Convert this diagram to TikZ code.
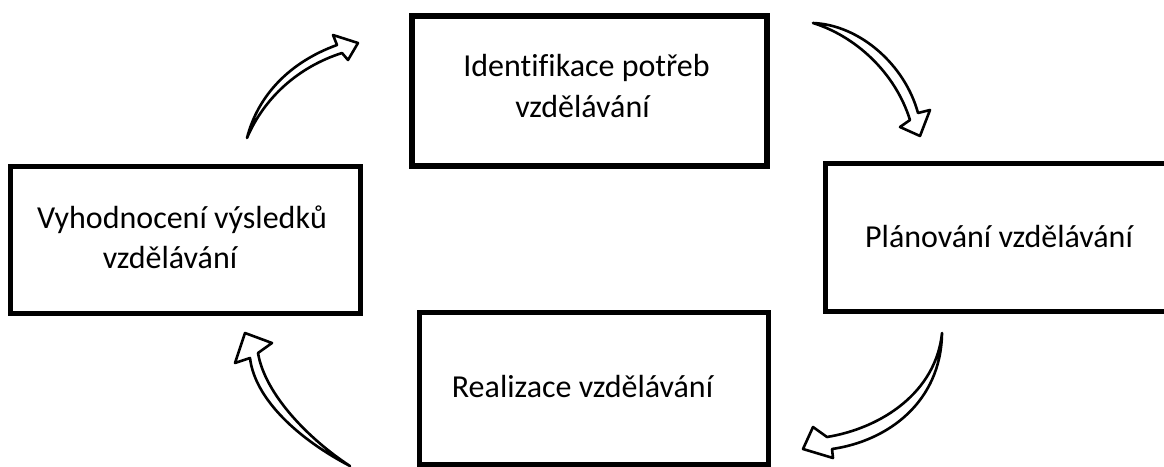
\documentclass[tikz,border=0pt]{standalone}
\usepackage{fontspec}
\setmainfont[Ligatures=NoCommon]{Carlito}
\begin{document}
\begin{tikzpicture}[x=1pt, y=-1pt,
  box/.style={draw=black, line width=5pt, rectangle, inner sep=0pt, fill=white},
  lbl/.style={anchor=base, inner sep=0pt, text=black, font=\fontsize{32pt}{38pt}\selectfont},
  blockarrow/.style={draw=black, fill=white, line width=2.6pt, line join=round}]
\clip (0,0) rectangle (1164,466);
\fill[white] (0,0) rectangle (1164,466);
% boxes
\node[box, line width=6pt, minimum width=355pt, minimum height=150pt] (ident) at (589,90.5) {};
\node[box, minimum width=349.5pt, minimum height=148pt] (plan) at (1000.25,237.5) {};
\node[box, minimum width=350pt, minimum height=147pt] (vyhod) at (185.5,240) {};
\node[box, minimum width=349pt, minimum height=151.5pt] (real) at (594,388.25) {};
% texts
\node[lbl] (ident1) at (586.5,76) {Identifikace potřeb};
\node[lbl] (ident2) at (582.5,117) {vzdělávání};
\node[lbl] (plan1) at (999,247) {Plánování vzdělávání};
\node[lbl] (vyhod1) at (182,228) {Vyhodnocení výsledků};
\node[lbl] (vyhod2) at (170,268) {vzdělávání};
\node[lbl] (real1) at (582.5,397) {Realizace vzdělávání};
% arrows
\draw[blockarrow] (247,138) .. controls (258,95) and (290,62) .. (337,45)
  -- (333,35) -- (358,43) -- (348,60) -- (342,53)
  .. controls (298,67) and (264,98) .. (247,138) -- cycle;
\draw[blockarrow] (813,23) .. controls (860,25) and (905,65) .. (918,113)
  -- (930,110) -- (920,136) -- (900,127) -- (910,120)
  .. controls (895,72) and (855,36) .. (813,23) -- cycle;
\draw[blockarrow] (942,333) .. controls (936,392) and (882,428) .. (827,437)
  -- (813,427) -- (803,449) -- (833,458) -- (832,449)
  .. controls (888,441) and (941,402) .. (942,333) -- cycle;
\draw[blockarrow] (350,466) .. controls (300,440) and (255,400) .. (250,358)
  -- (235,363) -- (245,333) -- (272,343) -- (258,353)
  .. controls (265,395) and (310,440) .. (350,466) -- cycle;
\end{tikzpicture}
\end{document}
